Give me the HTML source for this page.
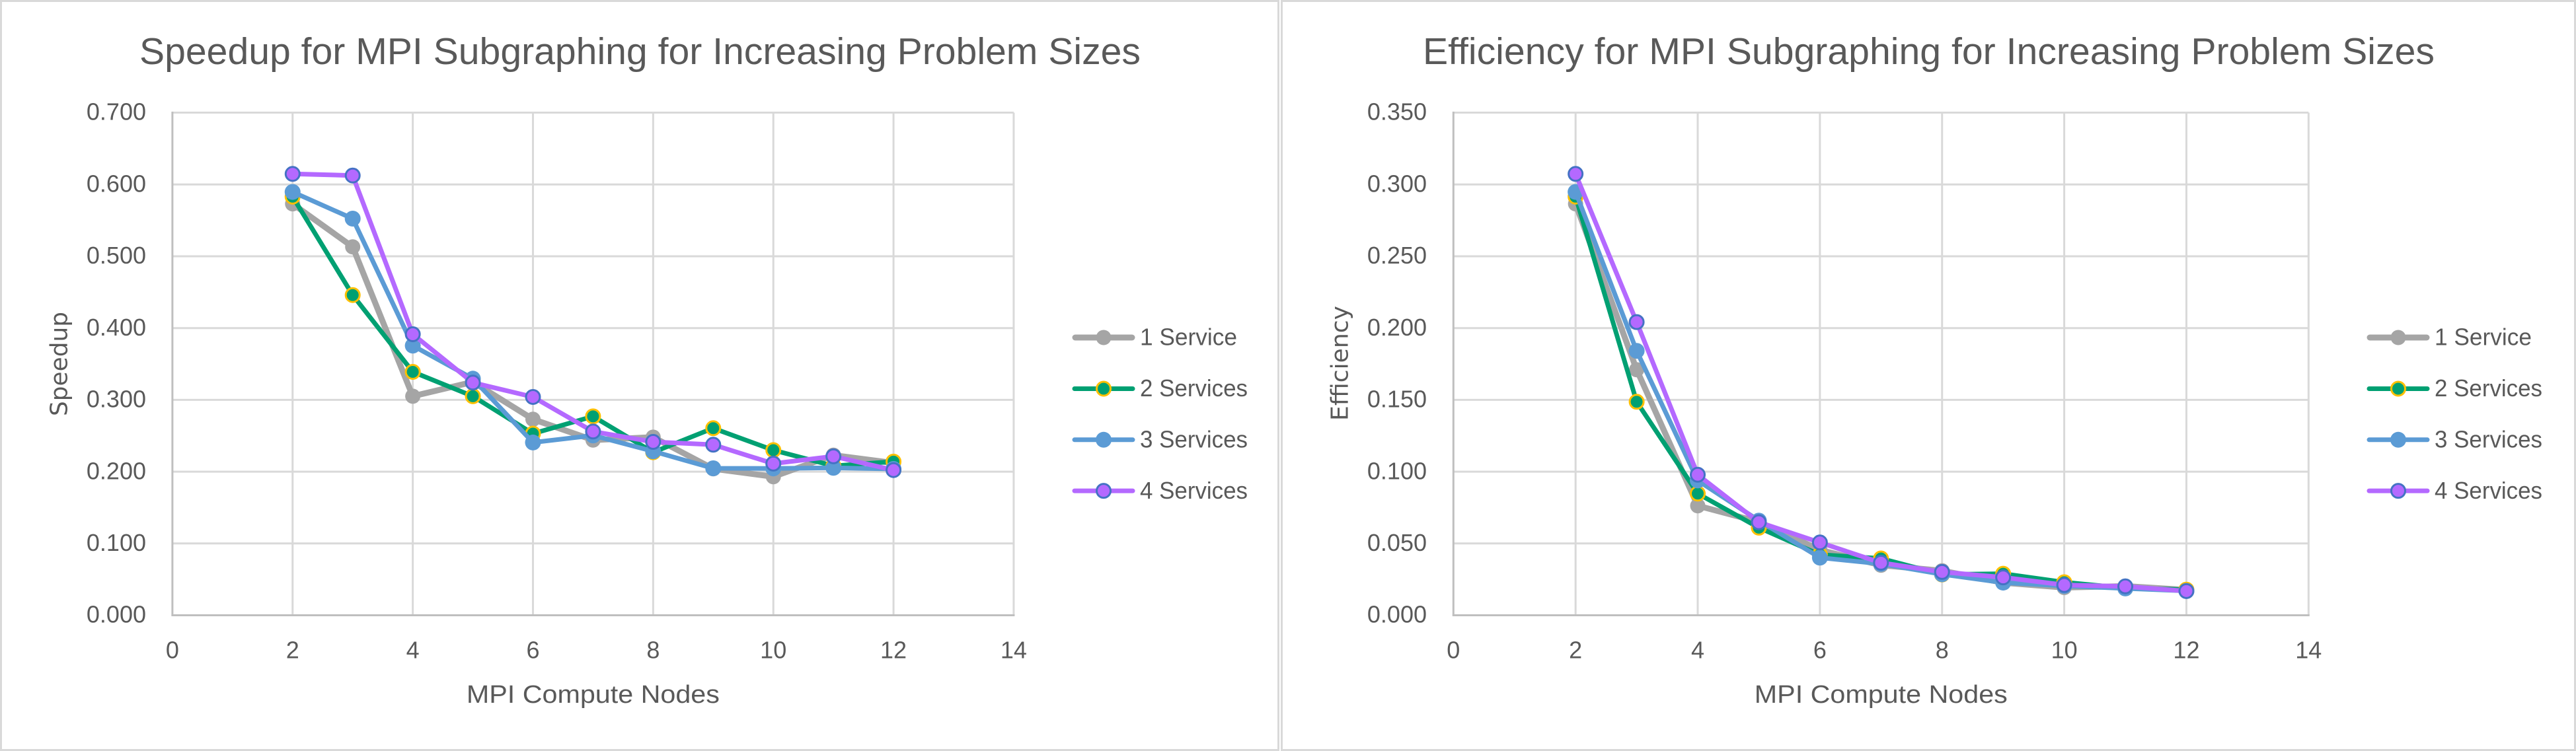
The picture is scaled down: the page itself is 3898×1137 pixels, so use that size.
<!DOCTYPE html>
<html>
<head>
<meta charset="utf-8">
<style>
html,body{margin:0;padding:0;background:#fff;}
svg{display:block;}
text{font-family:"Liberation Sans",sans-serif;fill:#595959;}
.tk{font-size:36px;}
.ttl{font-size:57px;}
.ax{font-size:38px;}
.yt{font-family:"DejaVu Sans",sans-serif;font-size:36px;}
.lg{font-size:36px;}
</style>
</head>
<body>
<svg width="3898" height="1137" viewBox="0 0 3898 1137" xmlns="http://www.w3.org/2000/svg">
<rect x="0" y="0" width="3898" height="1137" fill="#fff"/>
<!-- chart frames -->
<rect x="1.5" y="1.5" width="1933" height="1134" fill="#fff" stroke="#d9d9d9" stroke-width="3"/>
<rect x="1939.5" y="1.5" width="1957" height="1134" fill="#fff" stroke="#d9d9d9" stroke-width="3"/>

<!-- ===================== LEFT CHART ===================== -->
<text class="ttl" x="968.5" y="97" text-anchor="middle" textLength="1515" lengthAdjust="spacingAndGlyphs">Speedup for MPI Subgraphing for Increasing Problem Sizes</text>

<g stroke="#d9d9d9" stroke-width="3" fill="none">
<line x1="260.9" y1="170.5" x2="1533.9" y2="170.5"/>
<line x1="260.9" y1="279.2" x2="1533.9" y2="279.2"/>
<line x1="260.9" y1="388.0" x2="1533.9" y2="388.0"/>
<line x1="260.9" y1="496.7" x2="1533.9" y2="496.7"/>
<line x1="260.9" y1="605.4" x2="1533.9" y2="605.4"/>
<line x1="260.9" y1="714.1" x2="1533.9" y2="714.1"/>
<line x1="260.9" y1="822.8" x2="1533.9" y2="822.8"/>
<line x1="442.76" y1="170.5" x2="442.76" y2="931.5"/>
<line x1="624.62" y1="170.5" x2="624.62" y2="931.5"/>
<line x1="806.48" y1="170.5" x2="806.48" y2="931.5"/>
<line x1="988.34" y1="170.5" x2="988.34" y2="931.5"/>
<line x1="1170.2" y1="170.5" x2="1170.2" y2="931.5"/>
<line x1="1352.06" y1="170.5" x2="1352.06" y2="931.5"/>
<line x1="1533.92" y1="170.5" x2="1533.92" y2="931.5"/>
</g>
<g stroke="#bfbfbf" stroke-width="3">
<line x1="260.9" y1="169" x2="260.9" y2="931.5"/>
<line x1="259.4" y1="931.5" x2="1535.4" y2="931.5"/>
</g>

<g class="tk" text-anchor="end">
<text class="tk" x="221" y="181.7">0.700</text>
<text class="tk" x="221" y="290.4">0.600</text>
<text class="tk" x="221" y="399.2">0.500</text>
<text class="tk" x="221" y="507.9">0.400</text>
<text class="tk" x="221" y="616.6">0.300</text>
<text class="tk" x="221" y="725.3">0.200</text>
<text class="tk" x="221" y="834.0">0.100</text>
<text class="tk" x="221" y="942.7">0.000</text>
</g>
<g text-anchor="middle">
<text class="tk" x="260.9" y="996.7">0</text>
<text class="tk" x="442.76" y="996.7">2</text>
<text class="tk" x="624.62" y="996.7">4</text>
<text class="tk" x="806.48" y="996.7">6</text>
<text class="tk" x="988.34" y="996.7">8</text>
<text class="tk" x="1170.2" y="996.7">10</text>
<text class="tk" x="1352.06" y="996.7">12</text>
<text class="tk" x="1533.92" y="996.7">14</text>
</g>
<text class="ax" x="897.4" y="1064" text-anchor="middle" textLength="383" lengthAdjust="spacingAndGlyphs">MPI Compute Nodes</text>
<text class="yt" transform="translate(101.7,551) rotate(-90)" text-anchor="middle" textLength="158" lengthAdjust="spacingAndGlyphs">Speedup</text>

<!-- series left -->
<g fill="none" stroke-linejoin="round" stroke-linecap="round">
<polyline stroke="#a5a5a5" stroke-width="9" points="442.76,308.6 533.69,373.8 624.62,599.9 715.55,578.2 806.48,634.7 897.41,666.2 988.34,661.9 1079.27,709.7 1170.2,721.7 1261.13,689.1 1352.06,701.0"/>
</g>
<g fill="#a5a5a5">
<circle cx="442.76" cy="308.6" r="11.5"/><circle cx="533.69" cy="373.8" r="11.5"/><circle cx="624.62" cy="599.9" r="11.5"/><circle cx="715.55" cy="578.2" r="11.5"/><circle cx="806.48" cy="634.7" r="11.5"/><circle cx="897.41" cy="666.2" r="11.5"/><circle cx="988.34" cy="661.9" r="11.5"/><circle cx="1079.27" cy="709.7" r="11.5"/><circle cx="1170.2" cy="721.7" r="11.5"/><circle cx="1261.13" cy="689.1" r="11.5"/><circle cx="1352.06" cy="701.0" r="11.5"/>
</g>
<polyline fill="none" stroke="#00a072" stroke-width="7" stroke-linejoin="round" stroke-linecap="round" points="442.76,297.7 533.69,446.7 624.62,563.0 715.55,599.9 806.48,656.5 897.41,630.4 988.34,684.7 1079.27,648.3 1170.2,681.5 1261.13,705.4 1352.06,698.9"/>
<g fill="#00a072" stroke="#ffc000" stroke-width="3">
<circle cx="442.76" cy="297.7" r="10.5"/><circle cx="533.69" cy="446.7" r="10.5"/><circle cx="624.62" cy="563.0" r="10.5"/><circle cx="715.55" cy="599.9" r="10.5"/><circle cx="806.48" cy="656.5" r="10.5"/><circle cx="897.41" cy="630.4" r="10.5"/><circle cx="988.34" cy="684.7" r="10.5"/><circle cx="1079.27" cy="648.3" r="10.5"/><circle cx="1170.2" cy="681.5" r="10.5"/><circle cx="1261.13" cy="705.4" r="10.5"/><circle cx="1352.06" cy="698.9" r="10.5"/>
</g>
<polyline fill="none" stroke="#5b9bd5" stroke-width="7" stroke-linejoin="round" stroke-linecap="round" points="442.76,290.6 533.69,331.0 624.62,523.3 715.55,573.3 806.48,669.9 897.41,659.3 988.34,683.3 1079.27,709.0 1170.2,709.2 1261.13,708.3 1352.06,710.0"/>
<g fill="#5b9bd5">
<circle cx="442.76" cy="290.6" r="12"/><circle cx="533.69" cy="331.0" r="12"/><circle cx="624.62" cy="523.3" r="12"/><circle cx="715.55" cy="573.3" r="12"/><circle cx="806.48" cy="669.9" r="12"/><circle cx="897.41" cy="659.3" r="12"/><circle cx="988.34" cy="683.3" r="12"/><circle cx="1079.27" cy="709.0" r="12"/><circle cx="1170.2" cy="709.2" r="12"/><circle cx="1261.13" cy="708.3" r="12"/><circle cx="1352.06" cy="710.0" r="12"/>
</g>
<polyline fill="none" stroke="#b469ff" stroke-width="7" stroke-linejoin="round" stroke-linecap="round" points="442.76,263.3 533.69,265.7 624.62,506.0 715.55,579.3 806.48,601.0 897.41,653.3 988.34,669.0 1079.27,673.3 1170.2,701.9 1261.13,690.9 1352.06,711.7"/>
<g fill="#b469ff" stroke="#4472c4" stroke-width="3">
<circle cx="442.76" cy="263.3" r="10.5"/><circle cx="533.69" cy="265.7" r="10.5"/><circle cx="624.62" cy="506.0" r="10.5"/><circle cx="715.55" cy="579.3" r="10.5"/><circle cx="806.48" cy="601.0" r="10.5"/><circle cx="897.41" cy="653.3" r="10.5"/><circle cx="988.34" cy="669.0" r="10.5"/><circle cx="1079.27" cy="673.3" r="10.5"/><circle cx="1170.2" cy="701.9" r="10.5"/><circle cx="1261.13" cy="690.9" r="10.5"/><circle cx="1352.06" cy="711.7" r="10.5"/>
</g>

<!-- legend left -->
<g stroke-linecap="round">
<line x1="1627" y1="511" x2="1713" y2="511" stroke="#a5a5a5" stroke-width="9"/>
<circle cx="1670" cy="511" r="11.5" fill="#a5a5a5"/>
<line x1="1626" y1="588.5" x2="1714" y2="588.5" stroke="#00a072" stroke-width="7"/>
<circle cx="1670" cy="588.5" r="10.5" fill="#00a072" stroke="#ffc000" stroke-width="3"/>
<line x1="1626" y1="665.8" x2="1714" y2="665.8" stroke="#5b9bd5" stroke-width="7"/>
<circle cx="1670" cy="665.8" r="12" fill="#5b9bd5"/>
<line x1="1626" y1="743.1" x2="1714" y2="743.1" stroke="#b469ff" stroke-width="7"/>
<circle cx="1670" cy="743.1" r="10.5" fill="#b469ff" stroke="#4472c4" stroke-width="3"/>
</g>
<text class="lg" x="1725" y="522.7" textLength="147" lengthAdjust="spacingAndGlyphs">1 Service</text>
<text class="lg" x="1725" y="600.2" textLength="163" lengthAdjust="spacingAndGlyphs">2 Services</text>
<text class="lg" x="1725" y="677.5" textLength="163" lengthAdjust="spacingAndGlyphs">3 Services</text>
<text class="lg" x="1725" y="754.8" textLength="163" lengthAdjust="spacingAndGlyphs">4 Services</text>

<!-- ===================== RIGHT CHART ===================== -->
<text class="ttl" x="2918.5" y="97" text-anchor="middle" textLength="1531" lengthAdjust="spacingAndGlyphs">Efficiency for MPI Subgraphing for Increasing Problem Sizes</text>

<g stroke="#d9d9d9" stroke-width="3" fill="none">
<line x1="2199.3" y1="170.5" x2="3493.3" y2="170.5"/>
<line x1="2199.3" y1="279.2" x2="3493.3" y2="279.2"/>
<line x1="2199.3" y1="388.0" x2="3493.3" y2="388.0"/>
<line x1="2199.3" y1="496.7" x2="3493.3" y2="496.7"/>
<line x1="2199.3" y1="605.4" x2="3493.3" y2="605.4"/>
<line x1="2199.3" y1="714.1" x2="3493.3" y2="714.1"/>
<line x1="2199.3" y1="822.8" x2="3493.3" y2="822.8"/>
<line x1="2384.16" y1="170.5" x2="2384.16" y2="931.5"/>
<line x1="2569.02" y1="170.5" x2="2569.02" y2="931.5"/>
<line x1="2753.88" y1="170.5" x2="2753.88" y2="931.5"/>
<line x1="2938.74" y1="170.5" x2="2938.74" y2="931.5"/>
<line x1="3123.6" y1="170.5" x2="3123.6" y2="931.5"/>
<line x1="3308.46" y1="170.5" x2="3308.46" y2="931.5"/>
<line x1="3493.32" y1="170.5" x2="3493.32" y2="931.5"/>
</g>
<g stroke="#bfbfbf" stroke-width="3">
<line x1="2199.3" y1="169" x2="2199.3" y2="931.5"/>
<line x1="2197.8" y1="931.5" x2="3494.8" y2="931.5"/>
</g>

<g text-anchor="end">
<text class="tk" x="2159" y="181.7">0.350</text>
<text class="tk" x="2159" y="290.4">0.300</text>
<text class="tk" x="2159" y="399.2">0.250</text>
<text class="tk" x="2159" y="507.9">0.200</text>
<text class="tk" x="2159" y="616.6">0.150</text>
<text class="tk" x="2159" y="725.3">0.100</text>
<text class="tk" x="2159" y="834.0">0.050</text>
<text class="tk" x="2159" y="942.7">0.000</text>
</g>
<g text-anchor="middle">
<text class="tk" x="2199.3" y="996.7">0</text>
<text class="tk" x="2384.16" y="996.7">2</text>
<text class="tk" x="2569.02" y="996.7">4</text>
<text class="tk" x="2753.88" y="996.7">6</text>
<text class="tk" x="2938.74" y="996.7">8</text>
<text class="tk" x="3123.6" y="996.7">10</text>
<text class="tk" x="3308.46" y="996.7">12</text>
<text class="tk" x="3493.32" y="996.7">14</text>
</g>
<text class="ax" x="2846.3" y="1064" text-anchor="middle" textLength="383" lengthAdjust="spacingAndGlyphs">MPI Compute Nodes</text>
<text class="yt" transform="translate(2039.5,550) rotate(-90)" text-anchor="middle" textLength="174" lengthAdjust="spacingAndGlyphs">Efficiency</text>

<!-- series right -->
<polyline fill="none" stroke="#a5a5a5" stroke-width="9" stroke-linejoin="round" stroke-linecap="round" points="2384.16,308.6 2476.59,559.7 2569.02,765.7 2661.45,790.2 2753.88,832.6 2846.31,855.7 2938.74,864.1 3031.17,882.2 3123.6,889.5 3216.03,887.4 3308.46,893.1"/>
<g fill="#a5a5a5">
<circle cx="2384.16" cy="308.6" r="11.5"/><circle cx="2476.59" cy="559.7" r="11.5"/><circle cx="2569.02" cy="765.7" r="11.5"/><circle cx="2661.45" cy="790.2" r="11.5"/><circle cx="2753.88" cy="832.6" r="11.5"/><circle cx="2846.31" cy="855.7" r="11.5"/><circle cx="2938.74" cy="864.1" r="11.5"/><circle cx="3031.17" cy="882.2" r="11.5"/><circle cx="3123.6" cy="889.5" r="11.5"/><circle cx="3216.03" cy="887.4" r="11.5"/><circle cx="3308.46" cy="893.1" r="11.5"/>
</g>
<polyline fill="none" stroke="#00a072" stroke-width="7" stroke-linejoin="round" stroke-linecap="round" points="2384.16,297.7 2476.59,608.3 2569.02,747.25 2661.45,798.9 2753.88,839.8 2846.31,845.5 2938.74,869.8 3031.17,868.6 3123.6,881.5 3216.03,890.4 3308.46,892.7"/>
<g fill="#00a072" stroke="#ffc000" stroke-width="3">
<circle cx="2384.16" cy="297.7" r="10.5"/><circle cx="2476.59" cy="608.3" r="10.5"/><circle cx="2569.02" cy="747.25" r="10.5"/><circle cx="2661.45" cy="798.9" r="10.5"/><circle cx="2753.88" cy="839.8" r="10.5"/><circle cx="2846.31" cy="845.5" r="10.5"/><circle cx="2938.74" cy="869.8" r="10.5"/><circle cx="3031.17" cy="868.6" r="10.5"/><circle cx="3123.6" cy="881.5" r="10.5"/><circle cx="3216.03" cy="890.4" r="10.5"/><circle cx="3308.46" cy="892.7" r="10.5"/>
</g>
<polyline fill="none" stroke="#5b9bd5" stroke-width="7" stroke-linejoin="round" stroke-linecap="round" points="2384.16,290.6 2476.59,531.2 2569.02,727.4 2661.45,788.2 2753.88,844.3 2846.31,853.7 2938.74,869.45 3031.17,882.1 3123.6,887.0 3216.03,890.9 3308.46,894.6"/>
<g fill="#5b9bd5">
<circle cx="2384.16" cy="290.6" r="12"/><circle cx="2476.59" cy="531.2" r="12"/><circle cx="2569.02" cy="727.4" r="12"/><circle cx="2661.45" cy="788.2" r="12"/><circle cx="2753.88" cy="844.3" r="12"/><circle cx="2846.31" cy="853.7" r="12"/><circle cx="2938.74" cy="869.45" r="12"/><circle cx="3031.17" cy="882.1" r="12"/><circle cx="3123.6" cy="887.0" r="12"/><circle cx="3216.03" cy="890.9" r="12"/><circle cx="3308.46" cy="894.6" r="12"/>
</g>
<polyline fill="none" stroke="#b469ff" stroke-width="7" stroke-linejoin="round" stroke-linecap="round" points="2384.16,263.3 2476.59,487.6 2569.02,718.75 2661.45,790.6 2753.88,821.3 2846.31,852.0 2938.74,865.9 3031.17,874.1 3123.6,885.6 3216.03,887.8 3308.46,894.9"/>
<g fill="#b469ff" stroke="#4472c4" stroke-width="3">
<circle cx="2384.16" cy="263.3" r="10.5"/><circle cx="2476.59" cy="487.6" r="10.5"/><circle cx="2569.02" cy="718.75" r="10.5"/><circle cx="2661.45" cy="790.6" r="10.5"/><circle cx="2753.88" cy="821.3" r="10.5"/><circle cx="2846.31" cy="852.0" r="10.5"/><circle cx="2938.74" cy="865.9" r="10.5"/><circle cx="3031.17" cy="874.1" r="10.5"/><circle cx="3123.6" cy="885.6" r="10.5"/><circle cx="3216.03" cy="887.8" r="10.5"/><circle cx="3308.46" cy="894.9" r="10.5"/>
</g>

<!-- legend right -->
<g stroke-linecap="round">
<line x1="3586" y1="511" x2="3672" y2="511" stroke="#a5a5a5" stroke-width="9"/>
<circle cx="3629" cy="511" r="11.5" fill="#a5a5a5"/>
<line x1="3585" y1="588.5" x2="3673" y2="588.5" stroke="#00a072" stroke-width="7"/>
<circle cx="3629" cy="588.5" r="10.5" fill="#00a072" stroke="#ffc000" stroke-width="3"/>
<line x1="3585" y1="665.8" x2="3673" y2="665.8" stroke="#5b9bd5" stroke-width="7"/>
<circle cx="3629" cy="665.8" r="12" fill="#5b9bd5"/>
<line x1="3585" y1="743.1" x2="3673" y2="743.1" stroke="#b469ff" stroke-width="7"/>
<circle cx="3629" cy="743.1" r="10.5" fill="#b469ff" stroke="#4472c4" stroke-width="3"/>
</g>
<text class="lg" x="3684" y="522.7" textLength="147" lengthAdjust="spacingAndGlyphs">1 Service</text>
<text class="lg" x="3684" y="600.2" textLength="163" lengthAdjust="spacingAndGlyphs">2 Services</text>
<text class="lg" x="3684" y="677.5" textLength="163" lengthAdjust="spacingAndGlyphs">3 Services</text>
<text class="lg" x="3684" y="754.8" textLength="163" lengthAdjust="spacingAndGlyphs">4 Services</text>
</svg>
</body>
</html>
